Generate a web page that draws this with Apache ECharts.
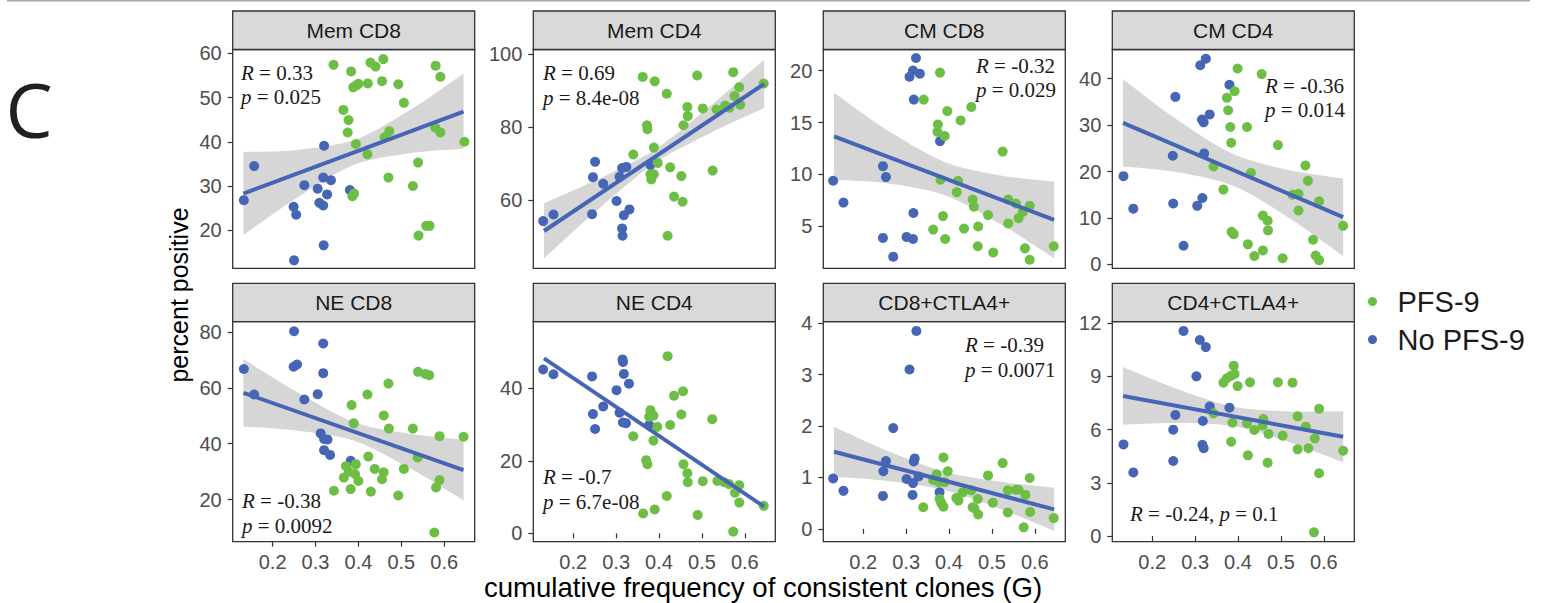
<!DOCTYPE html>
<html>
<head>
<meta charset="utf-8">
<script src="https://cdn.jsdelivr.net/npm/echarts@6.0.0/dist/echarts.min.js"></script>
<style>html,body{margin:0;padding:0;background:#fff}#c{width:1542px;height:603px}</style>
</head>
<body>
<div id="c"></div>
<script>
// ---------------- DATA ----------------
const panelTitles = ['Mem CD8', 'Mem CD4', 'CM CD8', 'CM CD4', 'NE CD8', 'NE CD4', 'CD8+CTLA4+', 'CD4+CTLA4+'];
const groupNames = ['PFS-9', 'No PFS-9'];
const xTicks = [0.2, 0.3, 0.4, 0.5, 0.6];
const yTicksMemCD8 = [20, 30, 40, 50, 60];
const yTicksMemCD4 = [60, 80, 100];
const yTicksCMCD8 = [5, 10, 15, 20];
const yTicksCMCD4 = [0, 10, 20, 30, 40];
const yTicksNECD8 = [20, 40, 60, 80];
const yTicksNECD4 = [0, 20, 40];
const yTicksCD8CTLA4 = [0, 1, 2, 3, 4];
const yTicksCD4CTLA4 = [0, 3, 6, 9, 12];
const statR = ['0.33', '0.69', '-0.32', '-0.36', '-0.38', '-0.7', '-0.39', '-0.24'];
const statP = ['0.025', '8.4e-08', '0.029', '0.014', '0.0092', '6.7e-08', '0.0071', '0.1'];

// Mem CD8
const memCD8PfsX = [0.342,0.383,0.388,0.396,0.400,0.365,0.377,0.375,0.394,0.386,0.390,0.422,0.428,0.440,0.458,0.455,0.421,0.461,0.472,0.470,0.493,0.506,0.527,0.539,0.540,0.558,0.566,0.580,0.591,0.579,0.591,0.647];
const memCD8PfsY = [57.4,55.9,52.3,52.8,53.1,47.2,44.9,42.1,39.5,27.7,28.3,53.2,57.9,57.0,58.7,53.7,37.2,41.0,42.4,31.9,53.0,48.8,30.0,35.3,18.8,21.0,21.0,57.2,54.7,43.2,42.1,40.0];
const memCD8NoX = [0.133,0.157,0.249,0.255,0.250,0.274,0.305,0.309,0.318,0.327,0.320,0.318,0.336,0.319,0.380];
const memCD8NoY = [26.8,34.5,25.3,23.5,13.2,30.2,29.4,26.2,25.6,28.1,39.1,31.9,31.3,16.6,29.1];
const memCD8Fit = [28.3, 46.8];
const memCD8BandLo = [18.9, 26.9, 34.8, 37.4, 38.4];
const memCD8BandHi = [37.7, 38.1, 40.4, 47.2, 55.4];

// Mem CD4
const memCD4PfsX = [0.362,0.390,0.418,0.372,0.373,0.340,0.388,0.397,0.380,0.388,0.382,0.426,0.452,0.435,0.455,0.420,0.489,0.466,0.467,0.457,0.502,0.525,0.534,0.554,0.564,0.573,0.576,0.587,0.589,0.644];
const memCD4PfsY = [93.7,92.5,89.1,80.5,79.4,72.5,74.4,70.2,67.1,67.1,65.7,69.0,66.6,61.0,59.6,50.3,94.1,85.5,83.0,80.5,85.1,68.1,84.8,85.9,85.3,95.0,88.5,90.9,86.1,91.9];
const memCD4NoX = [0.130,0.154,0.251,0.246,0.270,0.244,0.301,0.314,0.324,0.308,0.318,0.331,0.314,0.315,0.380];
const memCD4NoY = [54.3,56.1,70.5,66.3,64.5,56.2,59.8,68.8,69.1,66.4,55.9,57.5,52.3,50.3,69.6];
const memCD4Fit = [51.6, 91.8];
const memCD4BandLo = [44.1, 56.7, 70.2, 78.4, 85.2];
const memCD4BandHi = [59.2, 65.3, 73.8, 85.8, 98.4];

// CM CD8
const cmCD8PfsX = [0.379,0.341,0.396,0.374,0.373,0.390,0.427,0.452,0.525,0.380,0.421,0.418,0.455,0.458,0.491,0.538,0.556,0.572,0.562,0.538,0.588,0.386,0.363,0.391,0.435,0.468,0.467,0.503,0.577,0.588,0.644];
const cmCD8PfsY = [19.8,17.2,16.1,14.8,14.1,13.7,15.2,16.5,12.2,9.5,9.4,8.3,7.6,6.9,6.1,7.6,7.2,6.4,5.8,5.3,7.0,6.0,4.7,3.8,4.8,5.0,3.1,2.5,2.9,1.8,3.1];
const cmCD8NoX = [0.130,0.154,0.246,0.253,0.246,0.270,0.301,0.316,0.317,0.318,0.308,0.316,0.332,0.323,0.379];
const cmCD8NoY = [9.4,7.3,10.8,9.75,3.9,2.1,4.0,3.8,6.3,17.2,19.4,20.0,19.7,21.2,13.2];
const cmCD8Fit = [13.67, 5.64];
const cmCD8BandLo = [9.49, 9.18, 8.01, 5.23, 1.95];
const cmCD8BandHi = [17.85, 14.42, 11.21, 9.91, 9.33];

// CM CD4
const cmCD4PfsX = [0.399,0.455,0.392,0.374,0.377,0.382,0.421,0.384,0.493,0.343,0.430,0.557,0.563,0.366,0.527,0.541,0.541,0.589,0.645,0.458,0.469,0.470,0.385,0.390,0.423,0.438,0.458,0.504,0.575,0.581,0.589];
const cmCD4PfsY = [42.2,41.0,37.3,35.9,33.2,29.6,29.6,26.2,25.7,21.1,19.7,21.3,18.0,16.1,15.0,15.2,11.6,13.6,8.3,10.5,9.4,7.3,7.0,6.5,4.3,1.8,3.0,1.3,5.3,1.9,0.9];
const cmCD4NoX = [0.133,0.156,0.254,0.248,0.249,0.273,0.312,0.325,0.380,0.316,0.320,0.334,0.321,0.305,0.317];
const cmCD4NoY = [19.0,12.0,36.1,23.4,13.1,4.0,42.9,44.3,38.7,31.2,30.6,32.3,23.9,12.6,14.3];
const cmCD4Fit = [30.5, 10.16];
const cmCD4BandLo = [21.1, 20.0, 16.9, 9.95, 1.8];
const cmCD4BandHi = [39.9, 31.7, 23.7, 20.3, 18.5];

// NE CD8
const neCD8PfsX = [0.384,0.389,0.421,0.470,0.459,0.471,0.527,0.539,0.556,0.565,0.589,0.645,0.538,0.589,0.581,0.577,0.423,0.394,0.371,0.438,0.459,0.455,0.506,0.378,0.392,0.366,0.400,0.382,0.343,0.429,0.493];
const neCD8PfsY = [53.8,47.3,57.6,61.5,50.1,45.4,45.4,65.7,64.9,64.5,42.7,42.5,35.1,27.0,24.4,8.3,35.4,32.7,32.0,31.0,29.8,27.3,31.0,30.0,29.2,27.9,26.7,23.8,23.2,22.9,21.5];
const neCD8NoX = [0.133,0.157,0.250,0.249,0.257,0.274,0.318,0.318,0.305,0.312,0.320,0.328,0.320,0.334,0.382];
const neCD8NoY = [66.7,57.6,80.2,67.5,68.3,55.8,75.8,65.2,57.7,43.7,41.7,41.5,37.7,36.0,33.9];
const neCD8Fit = [58.2, 30.6];
const neCD8BandLo = [46.15, 44.8, 41.1, 31.2, 19.75];
const neCD8BandHi = [70.25, 59.1, 47.7, 43.6, 41.45];

// NE CD4
const neCD4PfsX = [0.420,0.435,0.456,0.452,0.524,0.380,0.382,0.387,0.377,0.396,0.426,0.340,0.387,0.370,0.373,0.457,0.466,0.467,0.502,0.536,0.552,0.563,0.587,0.577,0.587,0.644,0.418,0.363,0.390,0.490,0.573];
const neCD4PfsY = [48.9,38.0,39.2,32.8,31.5,34.0,32.5,32.5,32.2,29.4,29.9,26.8,25.6,20.2,19.1,19.1,16.6,14.1,14.4,14.5,14.1,13.6,13.3,11.2,8.5,7.6,10.3,5.5,6.6,5.1,0.5];
const neCD4NoX = [0.130,0.154,0.244,0.246,0.251,0.270,0.301,0.315,0.316,0.318,0.330,0.308,0.316,0.323,0.377];
const neCD4NoY = [45.2,43.9,43.3,32.9,28.8,35.0,39.5,48.0,47.3,44.0,41.3,33.3,30.6,30.4,29.9];
const neCD4Fit = [48.3, 7.36];

// CD8+CTLA4+
const cd8CtlaPfsX = [0.387,0.397,0.371,0.363,0.376,0.390,0.340,0.378,0.382,0.387,0.417,0.422,0.432,0.452,0.467,0.455,0.459,0.468,0.491,0.502,0.525,0.537,0.556,0.562,0.578,0.537,0.588,0.589,0.574,0.644];
const cd8CtlaPfsY = [1.39,1.12,1.06,0.95,0.91,0.91,0.42,0.58,0.50,0.43,0.60,0.55,0.71,0.75,0.58,0.42,0.40,0.28,1.04,0.51,1.28,0.75,0.76,0.76,0.66,0.32,0.99,0.33,0.03,0.21];
const cd8CtlaNoX = [0.130,0.154,0.246,0.247,0.253,0.270,0.308,0.324,0.301,0.316,0.315,0.320,0.318,0.329,0.378];
const cd8CtlaNoY = [0.98,0.74,0.64,1.12,1.32,1.96,3.10,3.85,0.97,0.89,0.66,1.37,1.31,1.02,0.71];
const cd8CtlaFit = [1.50, 0.38];
const cd8CtlaBandLo = [1.015, 0.94, 0.75, 0.385, -0.04];
const cd8CtlaBandHi = [1.985, 1.54, 1.11, 0.915, 0.80];

// CD4+CTLA4+
const cd4CtlaPfsX = [0.390,0.392,0.383,0.374,0.366,0.399,0.428,0.493,0.527,0.589,0.343,0.387,0.421,0.438,0.459,0.457,0.471,0.504,0.539,0.558,0.579,0.564,0.539,0.645,0.384,0.423,0.469,0.589,0.577];
const cd4CtlaPfsY = [9.61,9.14,9.03,8.90,8.65,8.46,8.67,8.67,8.65,7.18,6.92,6.39,6.36,5.98,6.60,6.24,5.76,5.66,6.75,6.17,5.51,4.95,4.89,4.81,5.32,4.55,4.14,3.54,0.21];
const cd4CtlaNoX = [0.133,0.156,0.273,0.311,0.325,0.303,0.249,0.249,0.254,0.318,0.334,0.317,0.320,0.380];
const cd4CtlaNoY = [5.17,3.59,11.57,11.06,10.66,9.01,6.00,4.23,6.83,6.49,7.30,5.15,4.95,7.24];
const cd4CtlaFit = [7.90, 5.60];
const cd4CtlaBandLo = [6.27, 6.37, 6.19, 5.29, 4.16];
const cd4CtlaBandHi = [9.53, 8.37, 7.29, 7.03, 7.04];

// x positions where the fit line and the band were read
const fitX = [0.132, 0.645];
const bandX = [0.132, 0.25, 0.39, 0.52, 0.645];

// ---------------- ASSEMBLY ----------------
const pfsX = [memCD8PfsX, memCD4PfsX, cmCD8PfsX, cmCD4PfsX, neCD8PfsX, neCD4PfsX, cd8CtlaPfsX, cd4CtlaPfsX];
const pfsY = [memCD8PfsY, memCD4PfsY, cmCD8PfsY, cmCD4PfsY, neCD8PfsY, neCD4PfsY, cd8CtlaPfsY, cd4CtlaPfsY];
const noX = [memCD8NoX, memCD4NoX, cmCD8NoX, cmCD4NoX, neCD8NoX, neCD4NoX, cd8CtlaNoX, cd4CtlaNoX];
const noY = [memCD8NoY, memCD4NoY, cmCD8NoY, cmCD4NoY, neCD8NoY, neCD4NoY, cd8CtlaNoY, cd4CtlaNoY];
const fitY = [memCD8Fit, memCD4Fit, cmCD8Fit, cmCD4Fit, neCD8Fit, neCD4Fit, cd8CtlaFit, cd4CtlaFit];
const bandLo = [memCD8BandLo, memCD4BandLo, cmCD8BandLo, cmCD4BandLo, neCD8BandLo, null, cd8CtlaBandLo, cd4CtlaBandLo];
const bandHi = [memCD8BandHi, memCD4BandHi, cmCD8BandHi, cmCD4BandHi, neCD8BandHi, null, cd8CtlaBandHi, cd4CtlaBandHi];
const yTicks = [yTicksMemCD8, yTicksMemCD4, yTicksCMCD8, yTicksCMCD4, yTicksNECD8, yTicksNECD4, yTicksCD8CTLA4, yTicksCD4CTLA4];

// ---------------- LAYOUT / STYLE ----------------
const yRanges = [[11.4, 60.86], [41.4, 101.2], [0.98, 22.02], [-0.86, 46.3], [5.0, 83.6], [-2.3, 58.4], [-0.25, 4.03], [-0.32, 12.09]];
const xRange = [0.107, 0.671];
const colLeft = [232.7, 533.3, 823.3, 1112.3];
const panelW = 242;
const rowTop = [49.5, 321.7];
const rowH = [218.8, 220];
const stripTop = [11, 283.3];
const annPos = [[241, 73, 97], [543, 73, 98], [976, 66, 90], [1265, 85.5, 109.5], [242, 500.7, 526.3], [543, 477.3, 502], [965, 345, 370], [1130, 514.3, null]];
const GREEN = '#6CBE45', BLUE = '#4666B5';
const SANS = '"Liberation Sans", Arial, Helvetica, sans-serif';
const SERIF = '"Liberation Serif", "Times New Roman", serif';

const grids = [], xAxes = [], yAxes = [], series = [], graphics = [];

graphics.push({ type: 'line', shape: { x1: 7, y1: 0.5, x2: 1530, y2: 0.5 }, style: { stroke: '#a9a9a9', lineWidth: 2 } });
graphics.push({ type: 'text', x: 29, y: 109, style: { text: 'C', font: '75px "Open Sans", "DejaVu Sans", sans-serif', fill: '#231F20', textAlign: 'center', textVerticalAlign: 'middle' } });
graphics.push({ type: 'text', x: 179, y: 295, rotation: Math.PI / 2, style: { text: 'percent positive', font: '25px ' + SANS, fill: '#000', textAlign: 'center', textVerticalAlign: 'middle' } });
graphics.push({ type: 'text', x: 763, y: 587, style: { text: 'cumulative frequency of consistent clones (G)', font: '27.6px ' + SANS, fill: '#000', textAlign: 'center', textVerticalAlign: 'middle' } });

function bandRenderer(lo, hi) {
  return function (params, api) {
    if (params.dataIndexInside !== 0) return null;
    const n = bandX.length;
    const up = [], dn = [];
    for (let k = 0; k < n; k++) {
      up.push(api.coord([api.value(0, k), api.value(2, k)]));
      dn.push(api.coord([api.value(0, k), api.value(1, k)]));
    }
    dn.reverse();
    const pts = [up[0]].concat(up, [up[n - 1]], [dn[0]], dn, [dn[n - 1]]);
    return { type: 'polygon', shape: { points: pts, smooth: 0.3 }, style: { fill: '#999999', opacity: 0.4 } };
  };
}

for (let i = 0; i < 8; i++) {
  const r = Math.floor(i / 4), c = i % 4;
  const left = colLeft[c], top = rowTop[r], h = rowH[r];
  grids.push({ left: left, top: top, width: panelW, height: h, show: true, backgroundColor: '#fff', borderColor: '#333333', borderWidth: 1.3 });
  xAxes.push({
    type: 'value', gridIndex: i, min: xRange[0], max: xRange[1],
    axisLine: { show: false }, splitLine: { show: false },
    axisTick: { show: r === 1, length: 5, lineStyle: { color: '#333', width: 1.2 }, customValues: xTicks },
    axisLabel: { show: r === 1, customValues: xTicks, formatter: v => v.toFixed(1), color: '#4D4D4D', fontSize: 20, fontFamily: SANS, margin: 10 }
  });
  yAxes.push({
    type: 'value', gridIndex: i, min: yRanges[i][0], max: yRanges[i][1],
    axisLine: { show: false }, splitLine: { show: false },
    axisTick: { show: true, length: 5, lineStyle: { color: '#333', width: 1.2 }, customValues: yTicks[i] },
    axisLabel: { customValues: yTicks[i], color: '#4D4D4D', fontSize: 20, fontFamily: SANS, margin: 11 }
  });
  // strip
  graphics.push({ type: 'rect', x: left, y: stripTop[r], shape: { width: panelW, height: top - stripTop[r] }, style: { fill: '#D9D9D9', stroke: '#333333', lineWidth: 1.3 } });
  graphics.push({ type: 'text', x: left + panelW / 2, y: (stripTop[r] + top) / 2, style: { text: panelTitles[i], font: '21px ' + SANS, fill: '#1A1A1A', textAlign: 'center', textVerticalAlign: 'middle' } });

  series.push({
    name: groupNames[1], type: 'scatter', xAxisIndex: i, yAxisIndex: i, symbolSize: 10, silent: true,
    itemStyle: { color: BLUE, opacity: 1 }, data: noX[i].map((x, k) => [x, noY[i][k]])
  });
  series.push({
    name: groupNames[0], type: 'scatter', xAxisIndex: i, yAxisIndex: i, symbolSize: 10, silent: true,
    itemStyle: { color: GREEN, opacity: 1 }, data: pfsX[i].map((x, k) => [x, pfsY[i][k]])
  });
  if (bandLo[i]) {
    series.push({
      type: 'custom', xAxisIndex: i, yAxisIndex: i, silent: true, clip: true,
      encode: { x: 0, y: [1, 2] },
      data: bandX.map((x, k) => [x, bandLo[i][k], bandHi[i][k]]),
      renderItem: bandRenderer(bandLo[i], bandHi[i])
    });
  }
  series.push({
    type: 'line', xAxisIndex: i, yAxisIndex: i, symbol: 'none', silent: true,
    lineStyle: { color: BLUE, width: 4 }, data: fitX.map((x, k) => [x, fitY[i][k]])
  });

  // annotations
  const a = annPos[i];
  const rich = { i: { fontStyle: 'italic', fontFamily: SERIF, fontSize: 21, fill: '#1A1A1A' } };
  if (a[2] === null) {
    graphics.push({ type: 'text', x: a[0], y: a[1], style: { text: '{i|R} = ' + statR[i] + ', {i|p} = ' + statP[i], fontFamily: SERIF, fontSize: 21, fill: '#1A1A1A', textVerticalAlign: 'middle', rich: rich } });
  } else {
    graphics.push({ type: 'text', x: a[0], y: a[1], style: { text: '{i|R} = ' + statR[i], fontFamily: SERIF, fontSize: 21, fill: '#1A1A1A', textVerticalAlign: 'middle', rich: rich } });
    graphics.push({ type: 'text', x: a[0], y: a[2], style: { text: '{i|p} = ' + statP[i], fontFamily: SERIF, fontSize: 21, fill: '#1A1A1A', textVerticalAlign: 'middle', rich: rich } });
  }
}

const chart = echarts.init(document.getElementById('c'), null, { renderer: 'svg', width: 1542, height: 603 });
chart.setOption({
  animation: false,
  backgroundColor: '#fff',
  legend: {
    data: groupNames, orient: 'vertical', left: 1363, top: 282, itemWidth: 40, itemHeight: 9, itemGap: 9,
    icon: 'circle', selectedMode: false,
    textStyle: { fontSize: 29, lineHeight: 28, color: '#1A1A1A', fontFamily: SANS }
  },
  grid: grids, xAxis: xAxes, yAxis: yAxes, series: series, graphic: graphics
});
</script>
</body>
</html>
